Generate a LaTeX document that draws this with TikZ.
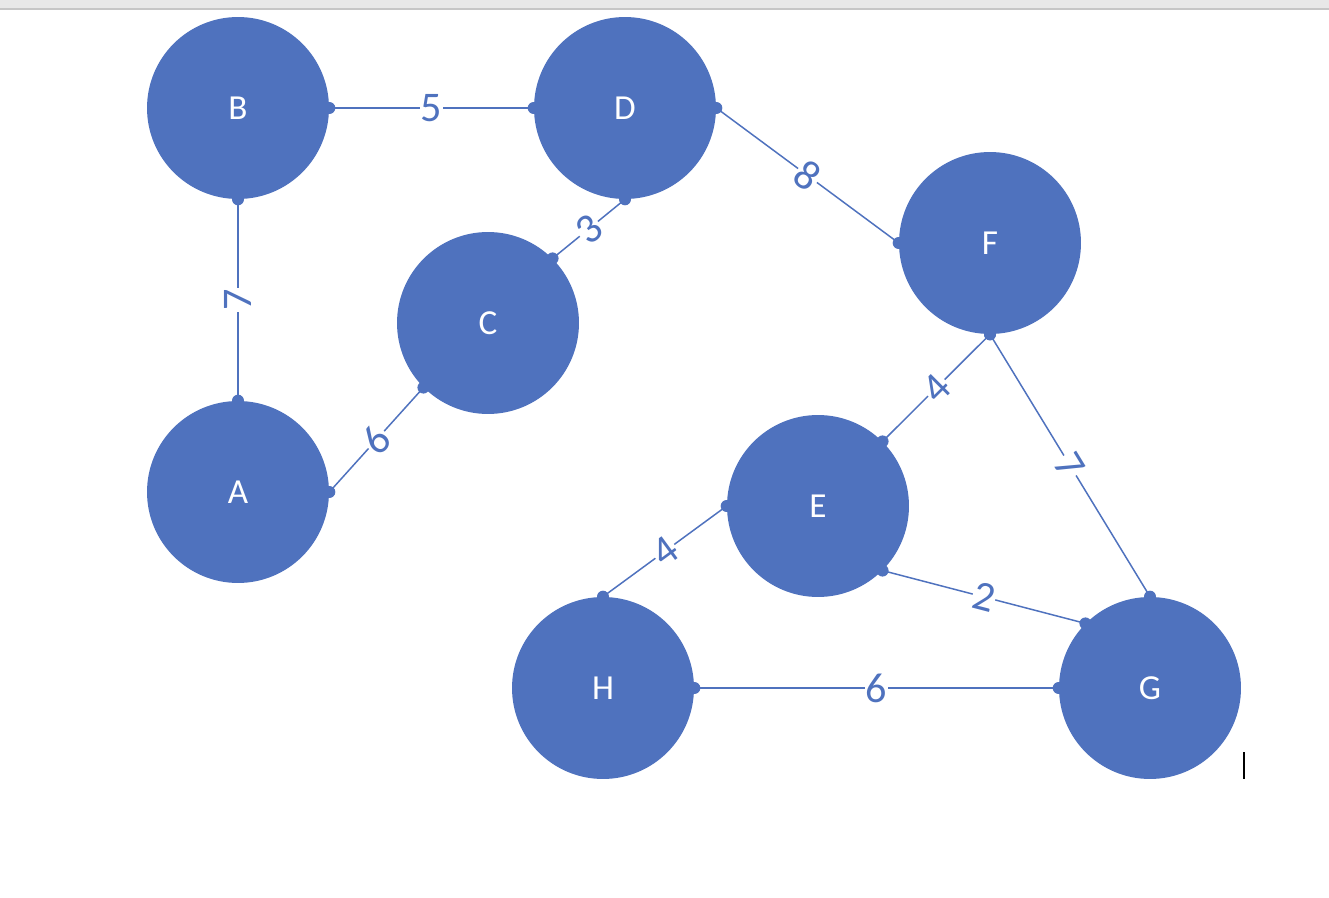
\documentclass[tikz,border=0pt]{standalone}
\usepackage{fontspec}
\setmainfont{Carlito}
\definecolor{nodeblue}{RGB}{79,114,190}
\tikzset{
  vertex/.style={circle,fill=nodeblue,minimum size=3.64cm,inner sep=0pt,
    text=white,font=\fontsize{20}{24}\selectfont},
  weight/.style={midway,sloped,fill=white,inner sep=0.5pt,text=nodeblue,
    font=\fontsize{24}{28}\selectfont},
  link/.style={draw=nodeblue,line width=0.85pt},
}
\begin{document}
\begin{tikzpicture}[x=0.02cm,y=-0.02cm]
    \useasboundingbox (0,0) rectangle (1329,898);
    \fill[gray!18] (0,0) rectangle (1329,8);
    \fill[gray!45] (0,8) rectangle (1329,10);

    \foreach \n/\x/\y in {
        B/238/108, D/625/108, C/488/323, F/990/243,
        A/238/492, E/818/506, H/603/688, G/1150/688}{
      \node[vertex] (\n) at (\x,\y) {\n};
    }

    \foreach \a/\b/\w in {
        B.east/D.west/5,
        A.north/B.south/7,
        C.45/D.south/3,
        A.east/C.225/6,
        D.east/F.west/8,
        E.45/F.south/4,
        F.south/G.north/7,
        H.north/E.west/4,
        E.-45/G.135/2,
        H.east/G.west/6}{
      \draw[link] (\a) -- node[weight]{\w} (\b);
      \fill[nodeblue] (\a) circle (0.12cm) (\b) circle (0.12cm);
    }

    \draw[line width=1.2pt] (1244,752) -- (1244,779);
  \end{tikzpicture}
\end{document}
